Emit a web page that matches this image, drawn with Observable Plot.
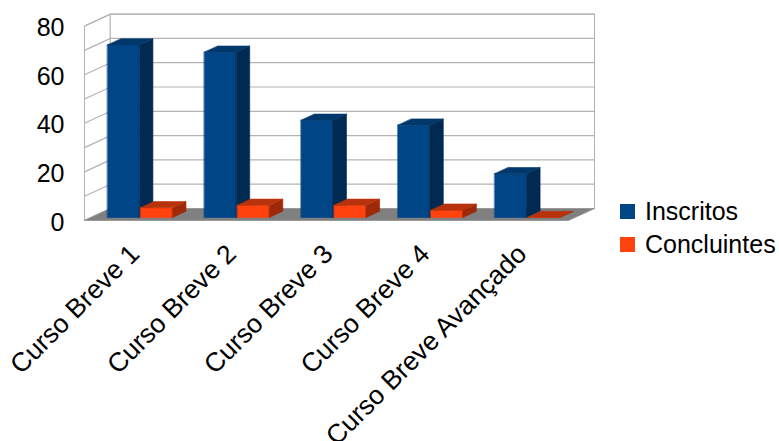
<!DOCTYPE html>
<html><head><meta charset="utf-8">
<script src="https://cdn.jsdelivr.net/npm/d3@7"></script>
<script src="https://cdn.jsdelivr.net/npm/@observablehq/plot@0.6"></script>
<style>
body{margin:0;background:#fff;font-family:"Liberation Sans",Arial,sans-serif;}
#chart{position:relative;width:779px;height:441px;overflow:hidden;}
#legend{position:absolute;left:620px;top:195px;font-size:25px;color:#000;}
.item{display:flex;align-items:center;height:33px;white-space:nowrap;}
.sw{width:15px;height:15px;margin-right:10px;flex:none;}
</style></head><body>
<div id="chart"><div id="legend"></div></div>
<script>
// ---- data ----
const categories = ["Curso Breve 1", "Curso Breve 2", "Curso Breve 3", "Curso Breve 4", "Curso Breve Avançado"];
const seriesNames = ["Inscritos", "Concluintes"];
const inscritos = [71, 68, 40, 38, 18];
const concluintes = [4, 5, 5, 3, 0];
const yTicks = [0, 20, 40, 60, 80];
const gridValues = [0, 10, 20, 30, 40, 50, 60, 70, 80];

// ---- styling / 3D geometry ----
const seriesColors = {
  Inscritos:   {front: "#004586", side: "#002a52", top: "#00386c"},
  Concluintes: {front: "#ff420e", side: "#9e2908", top: "#b8330b"}
};
const DX = 26 / 96.8, DY = 12 / 2.43;   // oblique depth offset in data units
const D0 = 0.25, D1 = 0.77;             // bar depth range (fraction of depth)
const BAR_OFF = 0.17, BAR_W = 0.33, BAR_GAP = 0.012;
const GRID = "#b3b3b3";
const nCat = categories.length;
const yMax = yTicks[yTicks.length - 1];

const pt = (x, v, d) => ({x: x + d * DX, y: v + d * DY});
function polyRows(list) {
  const rows = [];
  list.forEach((p, k) => p.pts.forEach(q => rows.push({id: k, fill: p.fill, x: q.x, y: q.y})));
  return rows;
}

const walls = polyRows([
  {fill: "#ffffff", pts: [pt(0, 0, 0), pt(0, yMax, 0), pt(0, yMax, 1), pt(0, 0, 1)]},
  {fill: "#ffffff", pts: [pt(0, 0, 1), pt(nCat, 0, 1), pt(nCat, yMax, 1), pt(0, yMax, 1)]}
]);
const floor = polyRows([
  {fill: "#808080", pts: [pt(0, 0, 0), pt(nCat, 0, 0), pt(nCat, 0, 1), pt(0, 0, 1)]}
]);

const barPolys = [];
categories.forEach((c, i) => {
  [inscritos, concluintes].forEach((vals, s) => {
    const v = vals[i];
    const col = seriesColors[seriesNames[s]];
    const x0 = i + BAR_OFF + s * (BAR_W + BAR_GAP), x1 = x0 + BAR_W;
    barPolys.push({fill: col.front, pts: [pt(x0, 0, D0), pt(x1, 0, D0), pt(x1, v, D0), pt(x0, v, D0)]});
    barPolys.push({fill: col.side, pts: [pt(x1, 0, D0), pt(x1, 0, D1), pt(x1, v, D1), pt(x1, v, D0)]});
    barPolys.push({fill: col.top, pts: [pt(x0, v, D0), pt(x1, v, D0), pt(x1, v, D1), pt(x0, v, D1)]});
  });
});
const bars = polyRows(barPolys);

const chart = Plot.plot({
  width: 779,
  height: 441,
  marginLeft: 84,
  marginRight: 211,
  marginTop: 25.6,
  marginBottom: 221,
  style: {fontFamily: "Liberation Sans, Arial, sans-serif", background: "#fff", overflow: "visible"},
  x: {domain: [0, nCat], axis: null},
  y: {domain: [0, yMax], axis: null},
  color: {type: "identity"},
  marks: [
    Plot.line(walls, {x: "x", y: "y", z: "id", fill: "fill", stroke: GRID, strokeWidth: 1, curve: "linear-closed"}),
    Plot.link(gridValues, {x1: () => pt(0, 0, 1).x, x2: () => pt(nCat, 0, 1).x, y1: v => pt(0, v, 1).y, y2: v => pt(0, v, 1).y, stroke: GRID, strokeWidth: 1.2}),
    Plot.link(gridValues, {x1: () => 0, x2: () => pt(0, 0, 1).x, y1: v => v, y2: v => pt(0, v, 1).y, stroke: GRID, strokeWidth: 1.2}),
    Plot.line(floor, {x: "x", y: "y", z: "id", fill: "fill", stroke: "#999999", strokeWidth: 1, curve: "linear-closed"}),
    Plot.line(bars, {x: "x", y: "y", z: "id", fill: "fill", stroke: "fill", strokeWidth: 0.6, curve: "linear-closed"}),
    Plot.axisY({ticks: yTicks, tickSize: 0, tickPadding: 20, fontSize: 25, dy: 2, label: null}),
    Plot.text(categories, {x: (d, i) => i + 0.5, y: () => 0, text: d => d, rotate: -45, textAnchor: "end", lineAnchor: "bottom", dx: 8, dy: 35, fontSize: 26.5, fill: "#000"})
  ]
});
document.getElementById("chart").prepend(chart);

const legend = document.getElementById("legend");
seriesNames.forEach(name => {
  const item = document.createElement("div");
  item.className = "item";
  const sw = document.createElement("span");
  sw.className = "sw";
  sw.style.background = seriesColors[name].front;
  const t = document.createElement("span");
  t.textContent = name;
  item.append(sw, t);
  legend.append(item);
});
</script>
</body></html>
